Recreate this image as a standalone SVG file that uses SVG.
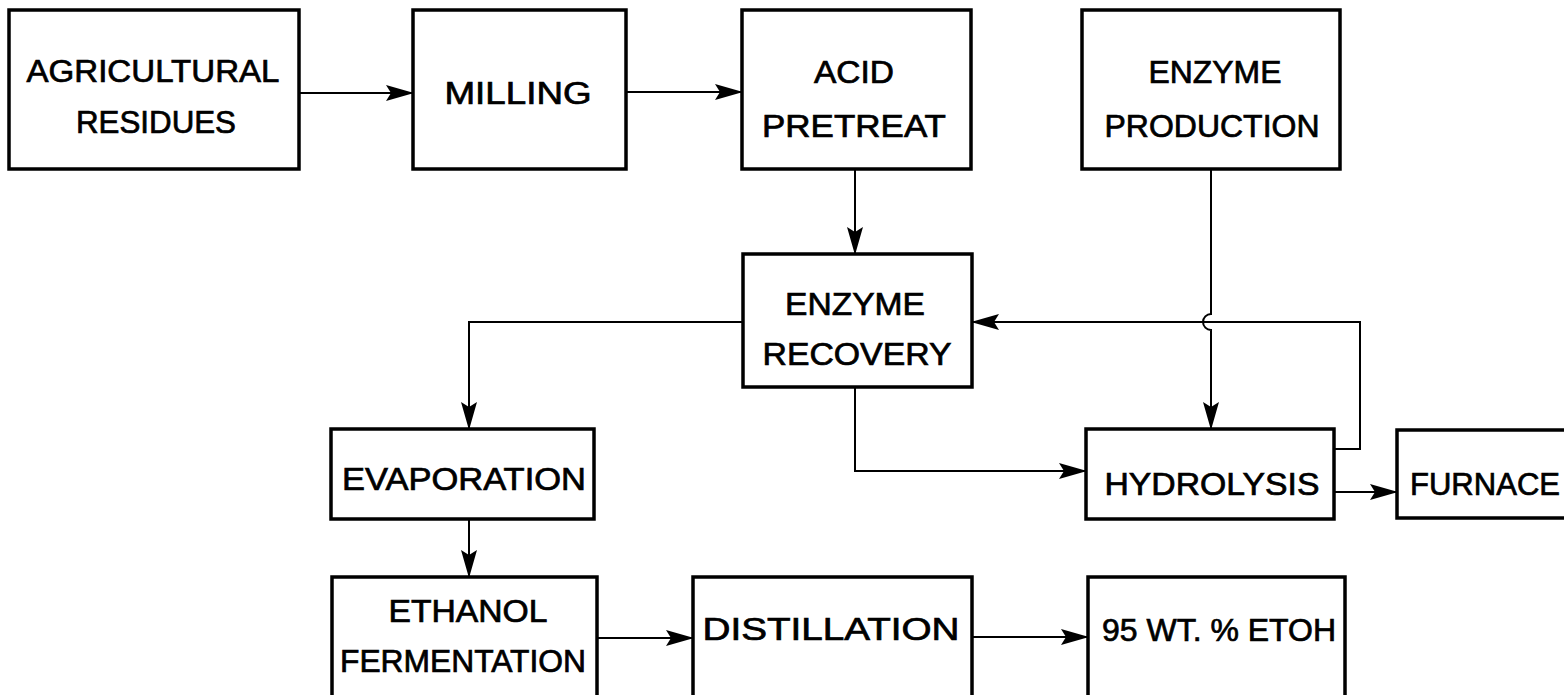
<svg xmlns="http://www.w3.org/2000/svg" width="1564" height="695" viewBox="0 0 1564 695">
  <defs>
    <style>
      .box { fill: #fff; stroke: #000; stroke-width: 3.5; }
      .lbl { font-family: "Liberation Sans", Arial, sans-serif; font-size: 31px; fill: #000; stroke: #000; stroke-width: 0.7; text-anchor: middle; }
      .wire { fill: none; stroke: #000; stroke-width: 2; }
    </style>
    <marker id="arr" viewBox="0 0 28 16" refX="27" refY="8" markerWidth="28" markerHeight="16" markerUnits="userSpaceOnUse" orient="auto">
      <path d="M0,0 L28,8 L0,16 L5,8 z" fill="#000"/>
    </marker>
  </defs>
  <rect width="1564" height="695" fill="#fff"/>

  <g id="connectors">
    <path class="wire" d="M299,93 H413" marker-end="url(#arr)"/>
    <path class="wire" d="M626,92 H742" marker-end="url(#arr)"/>
    <path class="wire" d="M855,169 V254" marker-end="url(#arr)"/>
    <path class="wire" d="M1211,169 V314 A8,8 0 0 0 1211,330 V429" marker-end="url(#arr)"/>
    <path class="wire" d="M1334,449 H1360 V322 H972" marker-end="url(#arr)"/>
    <path class="wire" d="M855,387 V471 H1086" marker-end="url(#arr)"/>
    <path class="wire" d="M743,322 H469 V429" marker-end="url(#arr)"/>
    <path class="wire" d="M469,519 V577" marker-end="url(#arr)"/>
    <path class="wire" d="M1334,492 H1397" marker-end="url(#arr)"/>
    <path class="wire" d="M597,638 H693" marker-end="url(#arr)"/>
    <path class="wire" d="M972,637 H1088" marker-end="url(#arr)"/>
  </g>

  <g id="agricultural-residues">
    <rect class="box" x="9" y="10" width="290" height="159"/>
    <text class="lbl" x="153" y="82" textLength="253" lengthAdjust="spacingAndGlyphs">AGRICULTURAL</text>
    <text class="lbl" x="156" y="133" textLength="160" lengthAdjust="spacingAndGlyphs">RESIDUES</text>
  </g>
  <g id="milling">
    <rect class="box" x="413" y="10" width="213" height="159"/>
    <text class="lbl" x="518" y="104" textLength="147" lengthAdjust="spacingAndGlyphs">MILLING</text>
  </g>
  <g id="acid-pretreat">
    <rect class="box" x="742" y="10" width="229" height="159"/>
    <text class="lbl" x="854" y="83" textLength="80" lengthAdjust="spacingAndGlyphs">ACID</text>
    <text class="lbl" x="854" y="137" textLength="184" lengthAdjust="spacingAndGlyphs">PRETREAT</text>
  </g>
  <g id="enzyme-production">
    <rect class="box" x="1082" y="10" width="258" height="159"/>
    <text class="lbl" x="1215" y="83" textLength="133" lengthAdjust="spacingAndGlyphs">ENZYME</text>
    <text class="lbl" x="1212" y="137" textLength="215" lengthAdjust="spacingAndGlyphs">PRODUCTION</text>
  </g>
  <g id="enzyme-recovery">
    <rect class="box" x="743" y="254" width="229" height="133"/>
    <text class="lbl" x="855" y="315" textLength="140" lengthAdjust="spacingAndGlyphs">ENZYME</text>
    <text class="lbl" x="857" y="365" textLength="189" lengthAdjust="spacingAndGlyphs">RECOVERY</text>
  </g>
  <g id="evaporation">
    <rect class="box" x="331" y="429" width="263" height="90"/>
    <text class="lbl" x="464" y="490" textLength="244" lengthAdjust="spacingAndGlyphs">EVAPORATION</text>
  </g>
  <g id="hydrolysis">
    <rect class="box" x="1086" y="429" width="248" height="90"/>
    <text class="lbl" x="1212" y="495" textLength="215" lengthAdjust="spacingAndGlyphs">HYDROLYSIS</text>
  </g>
  <g id="furnace">
    <rect class="box" x="1397" y="430" width="180" height="88"/>
    <text class="lbl" x="1485" y="495" textLength="150" lengthAdjust="spacingAndGlyphs">FURNACE</text>
  </g>
  <g id="ethanol-fermentation">
    <rect class="box" x="332" y="577" width="265" height="130"/>
    <text class="lbl" x="468" y="622" textLength="159" lengthAdjust="spacingAndGlyphs">ETHANOL</text>
    <text class="lbl" x="463" y="672" textLength="246" lengthAdjust="spacingAndGlyphs">FERMENTATION</text>
  </g>
  <g id="distillation">
    <rect class="box" x="693" y="577" width="279" height="130"/>
    <text class="lbl" x="831" y="640" textLength="257" lengthAdjust="spacingAndGlyphs">DISTILLATION</text>
  </g>
  <g id="ethanol-95">
    <rect class="box" x="1088" y="577" width="257" height="130"/>
    <text class="lbl" x="1219" y="641" textLength="234" lengthAdjust="spacingAndGlyphs">95 WT. % ETOH</text>
  </g>
</svg>
